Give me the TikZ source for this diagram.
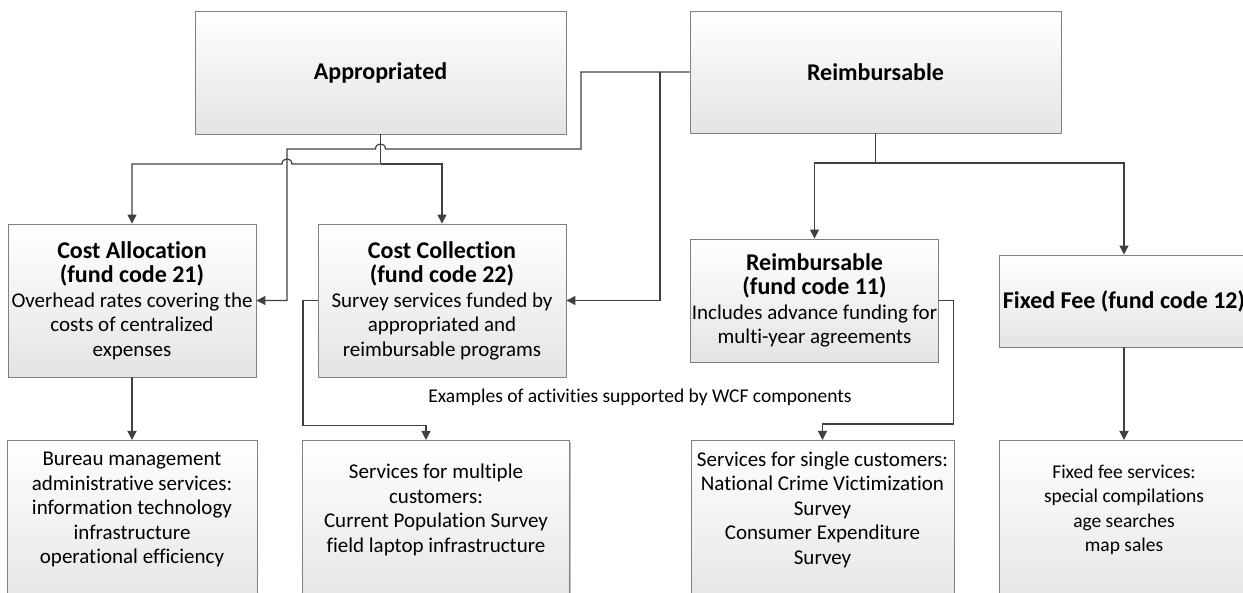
\documentclass[tikz,border=0pt]{standalone}
\usepackage{fontspec}
\setmainfont{Carlito}[Ligatures=CommonOff]
\usetikzlibrary{arrows.meta,shadows}

\definecolor{linegray}{HTML}{404040}
\definecolor{boxedge}{HTML}{808080}
\definecolor{boxbottom}{HTML}{E4E4E4}

\newcommand{\fundtitle}[1]{{\fontsize{24}{24.5}\selectfont\bfseries #1}}
\newcommand{\leafpad}{\\[10pt]\mbox{}}

\tikzset{
    fundbox/.style={draw=boxedge, line width=0.9pt, top color=white, bottom color=boxbottom,
        align=center, inner xsep=1pt, inner ysep=2pt, font=\fontsize{21}{24.5}\selectfont,
        drop shadow={shadow xshift=1.2pt, shadow yshift=-1.2pt, opacity=0.25, fill=black}},
    leafbox/.style={fundbox, anchor=north, minimum height=170pt},
    conn/.style={draw=linegray, line width=1.2pt},
    arr/.style={conn, -{Triangle[length=9pt,width=9pt]}},
}

\begin{document}
\begin{tikzpicture}[x=1pt,y=-1pt]
            \clip (0,0) rectangle (1243,593);

            \node[fundbox, minimum width=371pt, minimum height=123pt] (appr) at (380.5,72.5) {\fundtitle{Appropriated}};
            \node[fundbox, minimum width=371pt, minimum height=122pt] (reimb) at (875.5,72) {\fundtitle{Reimbursable}};

            \node[fundbox, minimum width=248pt, minimum height=153pt] (alloc) at (132,300.5)
                {\fundtitle{Cost Allocation}\\\fundtitle{(fund code 21)}\\Overhead rates covering the\\costs of centralized\\expenses};
            \node[fundbox, minimum width=248pt, minimum height=153pt] (collect) at (442,300.5)
                {\fundtitle{Cost Collection}\\\fundtitle{(fund code 22)}\\Survey services funded by\\appropriated and\\reimbursable programs};
            \node[fundbox, minimum width=247pt, minimum height=123pt] (reimbE) at (814.5,300.5)
                {\fundtitle{Reimbursable}\\\fundtitle{(fund code 11)}\\Includes advance funding for\\multi-year agreements};
            \node[fundbox, minimum width=250pt, minimum height=92pt] (fixed) at (1124,301)
                {\fundtitle{Fixed Fee (fund code 12)}};

            \node[font=\fontsize{19.5}{24.5}\selectfont] (examples) at (640,397) {Examples of activities supported by WCF components};

            \node[leafbox, minimum width=250pt] (bureau) at (132,440)
                {Bureau management\\administrative services:\\information technology\\infrastructure\\operational efficiency\leafpad};
            \node[leafbox, minimum width=267pt] (multi) at (436,440)
                {Services for multiple\\customers:\\Current Population Survey\\field laptop infrastructure\leafpad};
            \node[leafbox, minimum width=263pt] (single) at (822.5,440)
                {Services for single customers:\\National Crime Victimization\\Survey\\Consumer Expenditure\\Survey\leafpad};
            \node[leafbox, minimum width=250pt, font=\fontsize{19.5}{24.5}\selectfont] (feeserv) at (1124,440)
                {Fixed fee services:\\special compilations\\age searches\\map sales\leafpad};

            \coordinate (apprJ) at (380.5,164);
            \coordinate (reimbJ) at (875.5,163);
            \coordinate (reimbB) at (660,72);

            \draw[conn] (appr.south) -- (apprJ);
            \draw[arr] (apprJ) -- (292,164) .. controls (292,157.3) and (282,157.3) .. (282,164) -| (alloc.north);
            \draw[arr] (apprJ) -| (collect.north);

            \draw[arr] (reimb.west) -- (581,72) |- (385.5,149) .. controls (385.5,142.3) and (375.5,142.3) .. (375.5,149) -- (287,149) |- (alloc.east);
            \draw[arr] (reimbB) |- (collect.east);

            \draw[conn] (reimb.south) -- (reimbJ);
            \draw[arr] (reimbJ) -| (reimbE.north);
            \draw[arr] (reimbJ) -| (fixed.north);

            \draw[arr] (alloc.south) -- (bureau.north);
            \draw[arr] (collect.west) -- ++(-14.5,0) -- ++(0,125) -| ([xshift=-10pt]multi.north);
            \draw[arr] (reimbE.east) -- ++(15,0) -- ++(0,123.5) -| (single.north);
            \draw[arr] (fixed.south) -- (feeserv.north);
        \end{tikzpicture}
\end{document}
